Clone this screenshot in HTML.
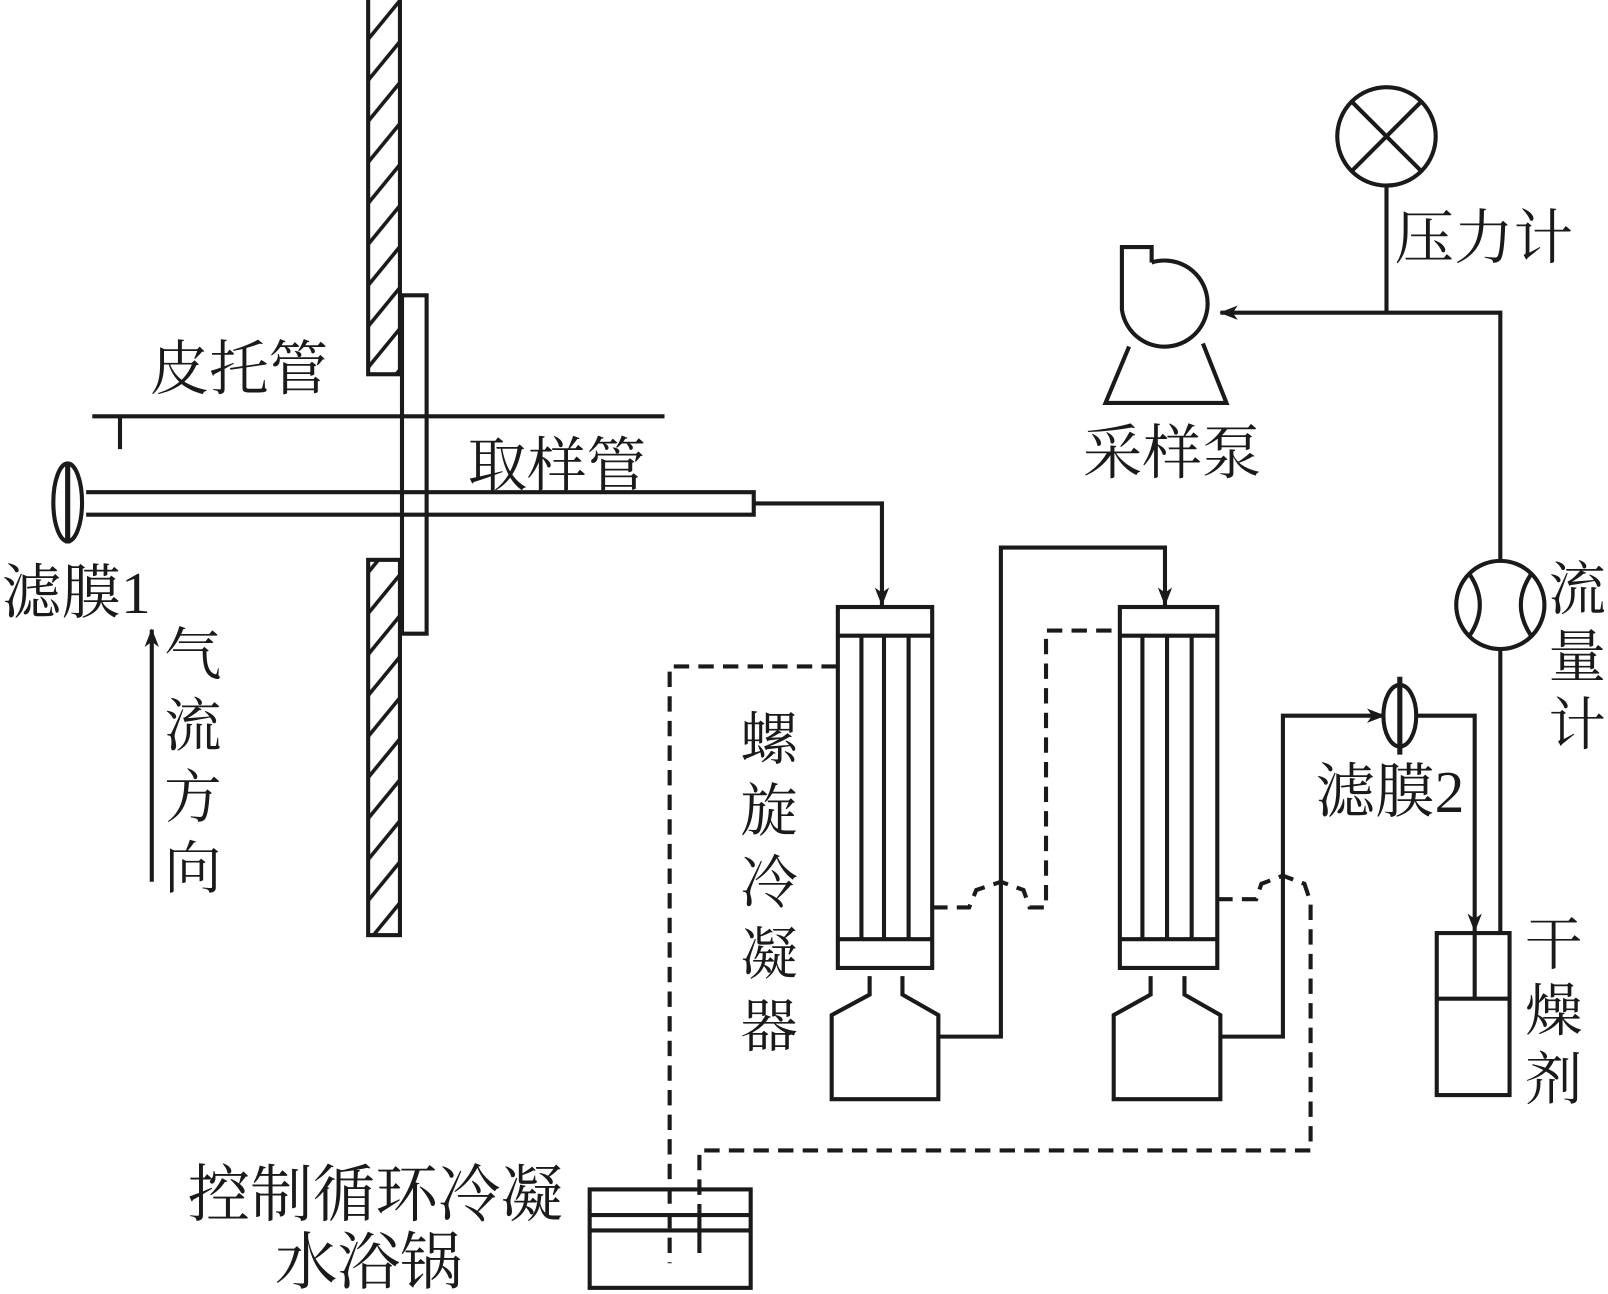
<!DOCTYPE html>
<html><head><meta charset="utf-8"><style>
html,body{margin:0;padding:0;background:#fff;}
svg{display:block;}
text{font-family:"Liberation Serif","Noto Serif CJK SC","Noto Sans CJK SC",serif;fill:#1a1a1a;}
</style></head><body>
<svg width="1608" height="1294" viewBox="0 0 1568 1262" preserveAspectRatio="none" xmlns="http://www.w3.org/2000/svg">
<defs>
<pattern id="h" patternUnits="userSpaceOnUse" width="32" height="40" x="358" y="0">
<line x1="-2" y1="42" x2="34" y2="-2" stroke="#1a1a1a" stroke-width="3.5"/>
</pattern>
<marker id="a" markerWidth="18" markerHeight="14" refX="17" refY="7" orient="auto" markerUnits="userSpaceOnUse" viewBox="0 0 18 14">
<path d="M0,0 L18,7 L0,14 L5,7 Z" fill="#1a1a1a"/>
</marker>
</defs>
<g fill="none" stroke="#1a1a1a" stroke-width="4">
<rect x="359" y="-5" width="31" height="370" fill="url(#h)"/>
<rect x="359" y="546" width="31" height="366" fill="url(#h)"/>
<rect x="392" y="288" width="24" height="330" fill="#fff"/>
<line x1="90" y1="406" x2="648" y2="406"/>
<line x1="117" y1="406" x2="117" y2="438"/>
<path d="M84,480 L735,480 L735,502 L84,502"/>
<ellipse cx="66" cy="490" rx="14" ry="38" fill="#fff"/>
<line x1="66" y1="452" x2="66" y2="530" stroke-width="5"/>
<path d="M735,491 L860,491 L860,590" marker-end="url(#a)"/>
<rect x="817" y="592" width="92" height="352"/>
<line x1="817" y1="620" x2="909" y2="620"/>
<line x1="817" y1="916" x2="909" y2="916"/>
<line x1="840" y1="620" x2="840" y2="916"/>
<line x1="862" y1="620" x2="862" y2="916"/>
<line x1="886" y1="620" x2="886" y2="916"/>
<path d="M848,952 L848,970 L811,990 L811,1072 L915,1072 L915,990 L880,970 L880,952"/>
<path d="M915,1011 L976,1011 L976,534 L1136,534 L1136,590" marker-end="url(#a)"/>
<rect x="1092" y="592" width="95" height="352"/>
<line x1="1092" y1="620" x2="1187" y2="620"/>
<line x1="1092" y1="916" x2="1187" y2="916"/>
<line x1="1114" y1="620" x2="1114" y2="916"/>
<line x1="1138" y1="620" x2="1138" y2="916"/>
<line x1="1162" y1="620" x2="1162" y2="916"/>
<path d="M1122,952 L1122,970 L1086,990 L1086,1072 L1190,1072 L1190,990 L1155,970 L1155,952"/>
<path d="M1190,1011 L1251,1011 L1251,698 L1350,698" marker-end="url(#a)"/>
<ellipse cx="1365" cy="698" rx="16" ry="30" fill="#fff"/>
<line x1="1365" y1="660" x2="1365" y2="736" stroke-width="5"/>
<path d="M1381,698 L1438,698 L1438,908" marker-end="url(#a)"/>
<rect x="1401" y="910" width="71" height="158"/>
<line x1="1401" y1="974" x2="1472" y2="974"/>
<line x1="1438" y1="910" x2="1438" y2="974"/>
<line x1="1463" y1="910" x2="1463" y2="633"/>
<circle cx="1463" cy="590" r="43"/>
<path d="M1433,560 Q1453,590 1433,620"/>
<path d="M1493,560 Q1473,590 1493,620"/>
<path d="M1463,547 L1463,305 L1352,305"/>
<circle cx="1352" cy="133" r="48"/>
<line x1="1318" y1="99" x2="1386" y2="167"/>
<line x1="1386" y1="99" x2="1318" y2="167"/>
<line x1="1352" y1="181" x2="1352" y2="305"/>
<path d="M1352,305 L1190,305" marker-end="url(#a)"/>
<path d="M1123,256 L1123,241 L1094,241 L1094,302 A42,42 0 1 0 1123,256"/>
<path d="M1101,338 L1078,393 L1196,393 L1173,335"/>
<rect x="575" y="1160" width="157" height="96"/>
<line x1="575" y1="1185" x2="732" y2="1185"/>
<line x1="575" y1="1200" x2="732" y2="1200"/>
<line x1="682" y1="1180" x2="682" y2="1222"/>
<path d="M148,860 L148,614" marker-end="url(#a)"/>
</g>
<g fill="none" stroke="#1a1a1a" stroke-width="4" stroke-dasharray="15,9">
<path d="M816,650 L653,650 L653,1232"/>
<path d="M909,885 L945,885 L952,868 L976,860 L998,868 L1004,885 L1020,885 L1020,615 L1092,615"/>
<path d="M1187,877 L1225,877 L1230,862 L1251,854 L1272,862 L1278,880 L1278,1122 L682,1122 L682,1180"/>
</g>
<g font-size="58">
<text x="146" y="380">皮托管</text>
<text x="456" y="474">取样管</text>
<text x="2" y="598">滤膜1</text>
<text x="1360" y="252">压力计</text>
<text x="1056" y="462">采样泵</text>
<text x="1283" y="792">滤膜2</text>
<text x="183" y="1186" font-size="61">控制循环冷凝</text>
<text x="268" y="1252" font-size="61">水浴锅</text>
</g>
<g font-size="56" text-anchor="middle">
<text x="188" y="658">气</text><text x="188" y="727">流</text><text x="188" y="797">方</text><text x="188" y="866">向</text>
<text x="750" y="740">螺</text><text x="750" y="810">旋</text><text x="750" y="880">冷</text><text x="750" y="950">凝</text><text x="750" y="1020">器</text>
<text x="1538" y="594">流</text><text x="1538" y="660">量</text><text x="1538" y="726">计</text>
<text x="1515" y="940">干</text><text x="1515" y="1005">燥</text><text x="1515" y="1072">剂</text>
</g>
</svg>
</body></html>
